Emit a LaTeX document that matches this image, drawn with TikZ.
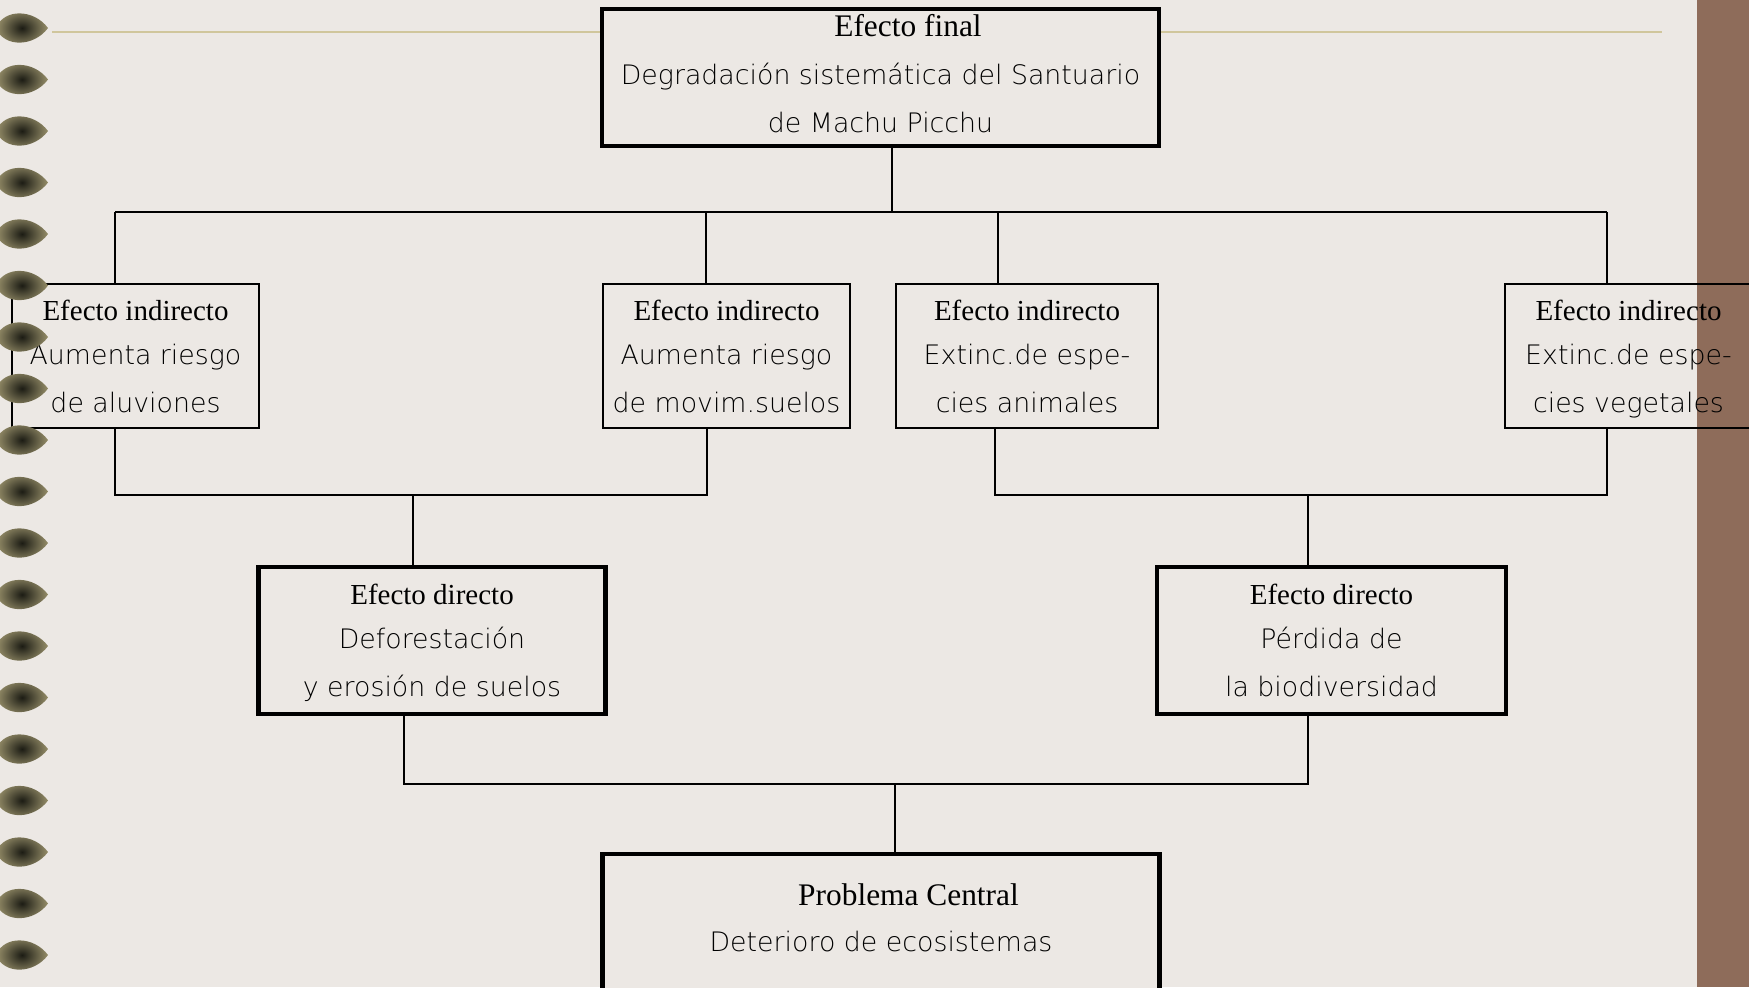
\documentclass[tikz,border=0pt]{standalone}
\usepackage{fontspec}
\setmainfont{Liberation Serif}
\newfontfamily\thinsans{DejaVu Sans ExtraLight}
\usetikzlibrary{positioning,calc,shapes.geometric}

\definecolor{paper}{RGB}{236,232,228}
\definecolor{spine}{RGB}{142,108,90}
\definecolor{rule}{RGB}{208,198,156}
\definecolor{coildark}{RGB}{28,28,20}
\definecolor{coillight}{RGB}{150,142,105}

\newcommand{\ttl}[1]{{\rmfamily\fontsize{14.5}{24}\selectfont #1}}
\newcommand{\bigttl}[1]{{\rmfamily\fontsize{15.7}{24}\selectfont #1}}

\begin{document}
\begin{tikzpicture}[
    x=0.5pt, y=-0.5pt,
    box/.style={draw, fill=paper, align=center, inner sep=0pt, text depth=0pt,
                font=\thinsans\fontsize{13.4}{24}\selectfont},
    mainbox/.style={box, line width=2.2pt, minimum width=278.5pt, minimum height=68.5pt,
                    text depth=4.5pt},
    indbox/.style={box, line width=1.2pt, minimum width=123.5pt, minimum height=72pt},
    dirbox/.style={box, line width=2.2pt, minimum width=173.5pt, minimum height=73.5pt},
    link/.style={line width=1.1pt},
  ]
    \clip (0,0) rectangle (1749,987);
    \fill[paper] (0,0) rectangle (1749,987);

    % ---- page decoration ----
    \draw[rule, line width=0.8pt] (52,32) -- (1662,32);
    \fill[spine] (1697,0) rectangle (1749,987);

    % ---- top: final effect ----
    \node[mainbox] (fin) at (880.5,77.5)
        {\bigttl{\hspace*{27.5pt}Efecto final}\\Degradación sistemática del Santuario\\de Machu Picchu};

    % ---- indirect effects ----
    \node[indbox] (ind1) at (135.5,356) {\ttl{Efecto indirecto}\\[-2pt]Aumenta riesgo\\de aluviones};
    \node[indbox] (ind2) at (726.5,356) {\ttl{Efecto indirecto}\\[-2pt]Aumenta riesgo\\de movim.suelos};
    \node[indbox, minimum width=131pt] (ind3) at (1027,356) {\ttl{Efecto indirecto}\\[-2pt]Extinc.de espe-\\cies animales};
    \node[indbox, fill=none] (ind4) at (1628.5,356) {\ttl{Efecto indirecto}\\[-2pt]Extinc.de espe-\\cies vegetales};

    % ---- direct effects ----
    \node[dirbox] (dir1) at (432,640.5)  {\ttl{Efecto directo}\\[-2pt]Deforestación\\y erosión de suelos};
    \node[dirbox, minimum width=174.5pt] (dir2) at (1331.5,640.5) {\ttl{Efecto directo}\\[-2pt]Pérdida de\\la biodiversidad};

    % ---- central problem ----
    \node[mainbox] (prob) at (881,922.5)
        {\bigttl{\hspace*{27.5pt}Problema Central}\\[-1pt]Deterioro de ecosistemas};

    % ---- tree connectors ----
    \coordinate (topbus) at (892,212);
    \coordinate (b1) at (115,212);
    \coordinate (b2) at (706,212);
    \coordinate (b3) at (998,212);
    \coordinate (b4) at (1607,212);
    \draw[link] (fin.south -| topbus) -- (topbus);
    \draw[link] (b1) -- (b4);
    \draw[link] (b1) -- (b1 |- ind1.north);
    \draw[link] (b2) -- (b2 |- ind2.north);
    \draw[link] (b3) -- (b3 |- ind3.north);
    \draw[link] (b4) -- (b4 |- ind4.north);

    \coordinate (l1) at (115,495);
    \coordinate (l2) at (707,495);
    \coordinate (lm) at (413,495);
    \draw[link] (l1 |- ind1.south) -- (l1) -- (l2) -- (l2 |- ind2.south);
    \draw[link] (lm) -- (lm |- dir1.north);

    \coordinate (r1) at (995,495);
    \coordinate (r2) at (1607,495);
    \coordinate (rm) at (1308,495);
    \draw[link] (r1 |- ind3.south) -- (r1) -- (r2) -- (r2 |- ind4.south);
    \draw[link] (rm) -- (rm |- dir2.north);

    \coordinate (d1) at (404,784);
    \coordinate (d2) at (1308,784);
    \coordinate (dm) at (895,784);
    \draw[link] (d1 |- dir1.south) -- (d1) -- (d2) -- (d2 |- dir2.south);
    \draw[link] (dm) -- (dm |- prob.north);

    % ---- spiral binding ----
    \foreach \k in {0,...,18}
      \shade[inner color=coildark, outer color=coillight]
        (-4,28+51.5*\k) .. controls (4,8+51.5*\k) and (34,9+51.5*\k) .. (48,28+51.5*\k)
                        .. controls (34,47+51.5*\k) and (4,48+51.5*\k) .. cycle;
\end{tikzpicture}
\end{document}
